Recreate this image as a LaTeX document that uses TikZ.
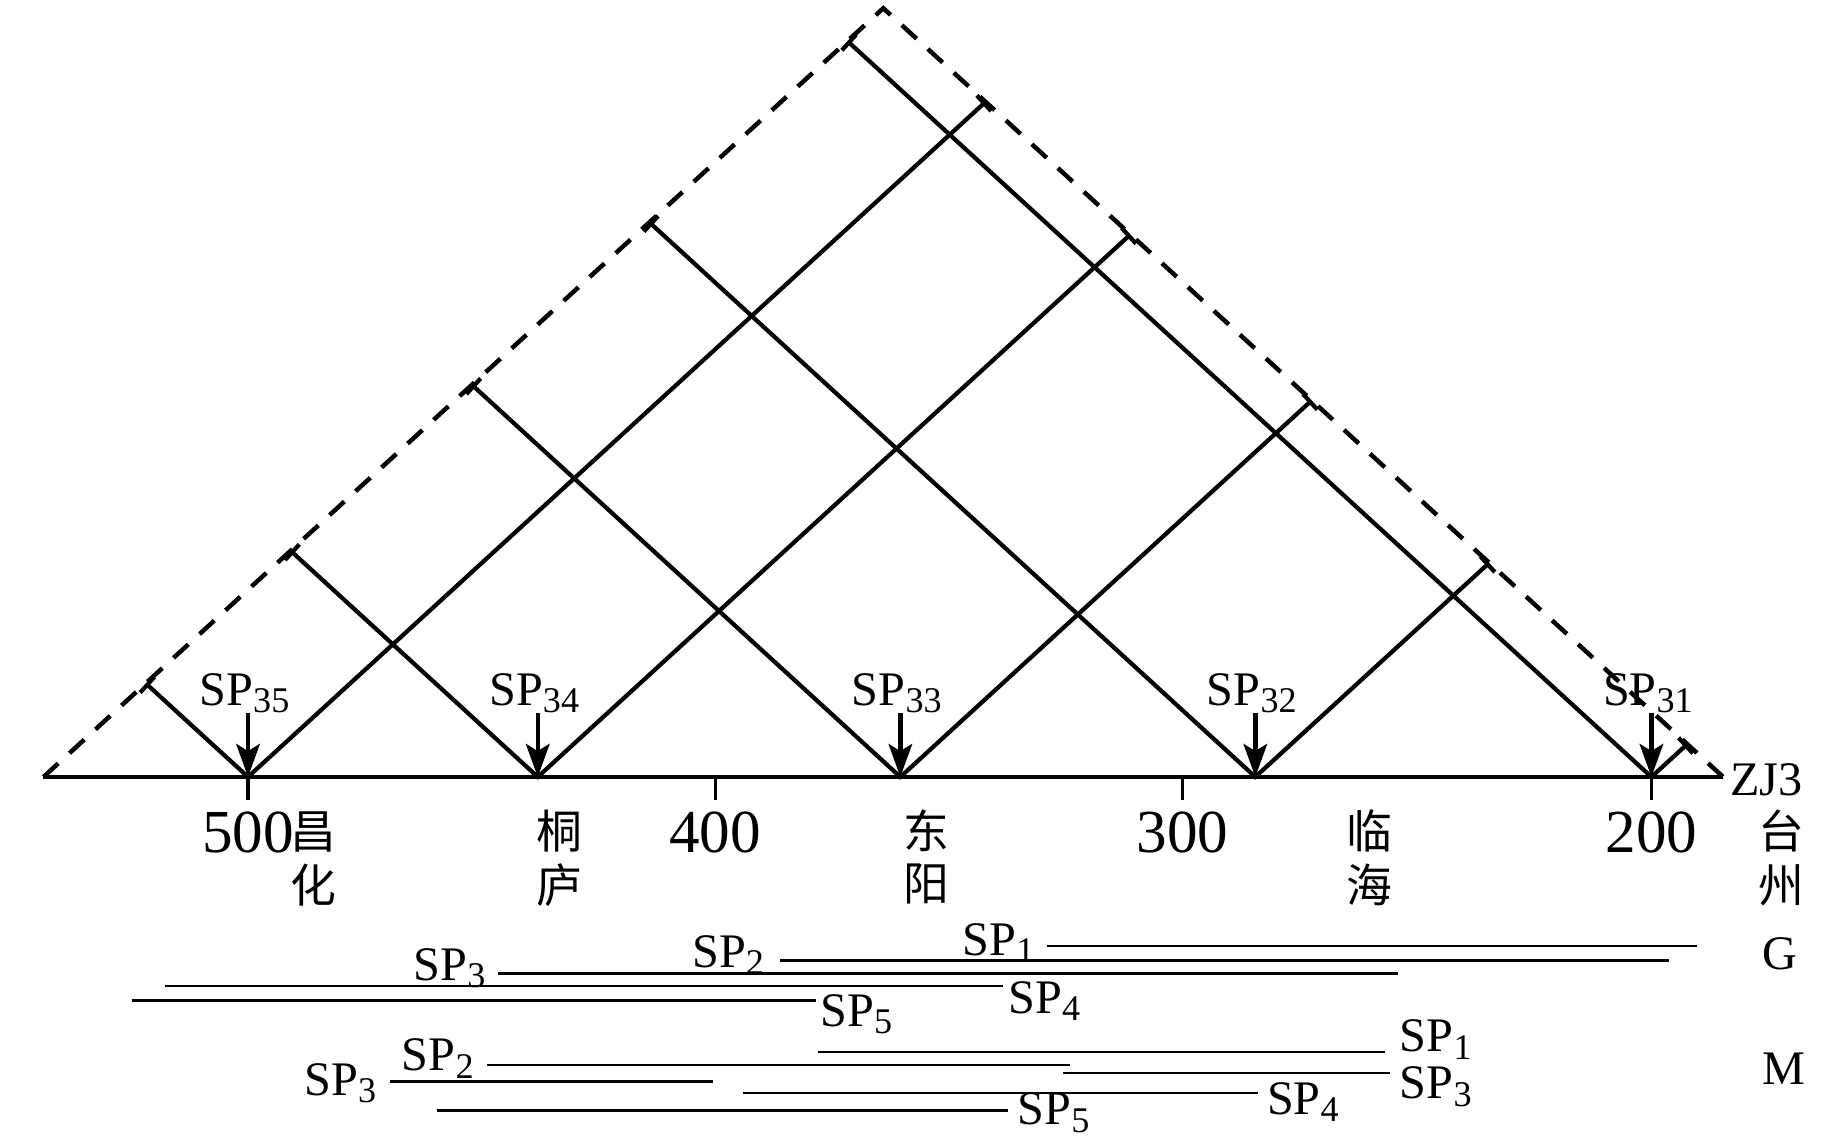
\documentclass[tikz,border=0pt]{standalone}
\usepackage{fontspec}
\setmainfont{Liberation Serif}
\newfontfamily\cjk{Noto Sans CJK SC}
\usepackage{graphicx}
\usetikzlibrary{arrows.meta}
\newcommand\spl[1]{SP\raisebox{-0.15em}{\scalebox{0.75}{#1}}}
\tikzset{
  every node/.style={inner sep=0pt, outer sep=0pt},
  lbl/.style={font=\fontsize{41}{46}\selectfont},
  numlbl/.style={font=\fontsize{52}{56}\selectfont, anchor=base},
  placelbl/.style={font=\cjk\fontsize{39}{44}\selectfont, anchor=base},
  dashframe/.style={line width=3.8pt, dash pattern=on 17pt off 13pt},
  vline/.style={line width=3.6pt, {Bar[width=18pt]}-{Bar[width=18pt]}},
  baseax/.style={line width=3.6pt},
  tickmark/.style={line width=2.8pt},
  downarrow/.style={line width=3.8pt, -{Stealth[length=28pt,width=20pt,inset=6pt]}},
  spanline/.style={line width=2.2pt},
}
\begin{document}
\begin{tikzpicture}[x=1pt,y=-1pt]
\useasboundingbox (0,0) rectangle (1568,969);
% frame
\coordinate (L) at (37,661);
\coordinate (A) at (751.5,7);
\coordinate (R) at (1466,661);
\draw[dashframe] (L) -- (A) -- (R);
\draw[baseax] (L) -- (R);
% stations
\foreach \n/\x in {35/211,34/457.5,33/766,32/1068,31/1405}{
  \coordinate (s\n) at (\x,661);
  \coordinate (l\n) at ({(\x+37)/2},{661-0.9153*(\x-37)/2});
  \coordinate (r\n) at ({(\x+1466)/2},{661-0.9153*(1466-\x)/2});
  \coordinate (a\n) at (\x,607);
  \draw[vline] (l\n) -- (s\n) -- (r\n);
  \draw[downarrow] (a\n) -- (s\n);
  \node[lbl, anchor=base] (sp\n) at (\x-3,600) {\spl{\n}};
}
% ticks and numbers
\foreach \x/\v in {211/500,608.5/400,1006/300,1405/200}{
  \coordinate (t\v) at (\x,681);
  \draw[tickmark] (\x,661) -- (t\v);
  \node[numlbl] (n\v) at (\x,725) {\v};
}
\node[lbl, anchor=base west] (zj) at (1472,677) {ZJ3};
% places
\node[placelbl] (changhua) at (267,722) {\begin{tabular}[t]{@{}c@{}}昌\\化\end{tabular}};
\node[placelbl] (tonglu) at (476,722) {\begin{tabular}[t]{@{}c@{}}桐\\庐\end{tabular}};
\node[placelbl] (dongyang) at (788.5,722) {\begin{tabular}[t]{@{}c@{}}东\\阳\end{tabular}};
\node[placelbl] (linhai) at (1165,722) {\begin{tabular}[t]{@{}c@{}}临\\海\end{tabular}};
\node[placelbl] (taizhou) at (1516,722) {\begin{tabular}[t]{@{}c@{}}台\\州\end{tabular}};
% G group
\node[lbl, anchor=base] (G) at (1514,825) {G};
\node[lbl, anchor=base west] (g1) at (819,813) {\spl{1}};
\node[lbl, anchor=base west] (g2) at (589,823) {\spl{2}};
\node[lbl, anchor=base west] (g3) at (352,834) {\spl{3}};
\node[lbl, anchor=base west] (g4) at (858,862) {\spl{4}};
\node[lbl, anchor=base west] (g5) at (698,873) {\spl{5}};
\draw[spanline] (891,805) -- (1444,805);
\draw[spanline] (664,817) -- (1420,817);
\draw[spanline] (424,828) -- (1189,828);
\draw[spanline] (140,839) -- (853,839);
\draw[spanline] (112,851) -- (694,851);
% M group
\node[lbl, anchor=base] (M) at (1518,923) {M};
\node[lbl, anchor=base west] (m1) at (1191,895) {\spl{1}};
\node[lbl, anchor=base west] (m2) at (342,911) {\spl{2}};
\node[lbl, anchor=base west] (m3a) at (259,932) {\spl{3}};
\node[lbl, anchor=base west] (m3b) at (1191,935) {\spl{3}};
\node[lbl, anchor=base west] (m4) at (1078,948) {\spl{4}};
\node[lbl, anchor=base west] (m5) at (866,957) {\spl{5}};
\draw[spanline] (696,895) -- (1178,895);
\draw[spanline] (414,906) -- (910,906);
\draw[spanline] (332,920) -- (607,920);
\draw[spanline] (904,913) -- (1183,913);
\draw[spanline] (632,930) -- (1070,930);
\draw[spanline] (372,945) -- (858,945);
\end{tikzpicture}
\end{document}
